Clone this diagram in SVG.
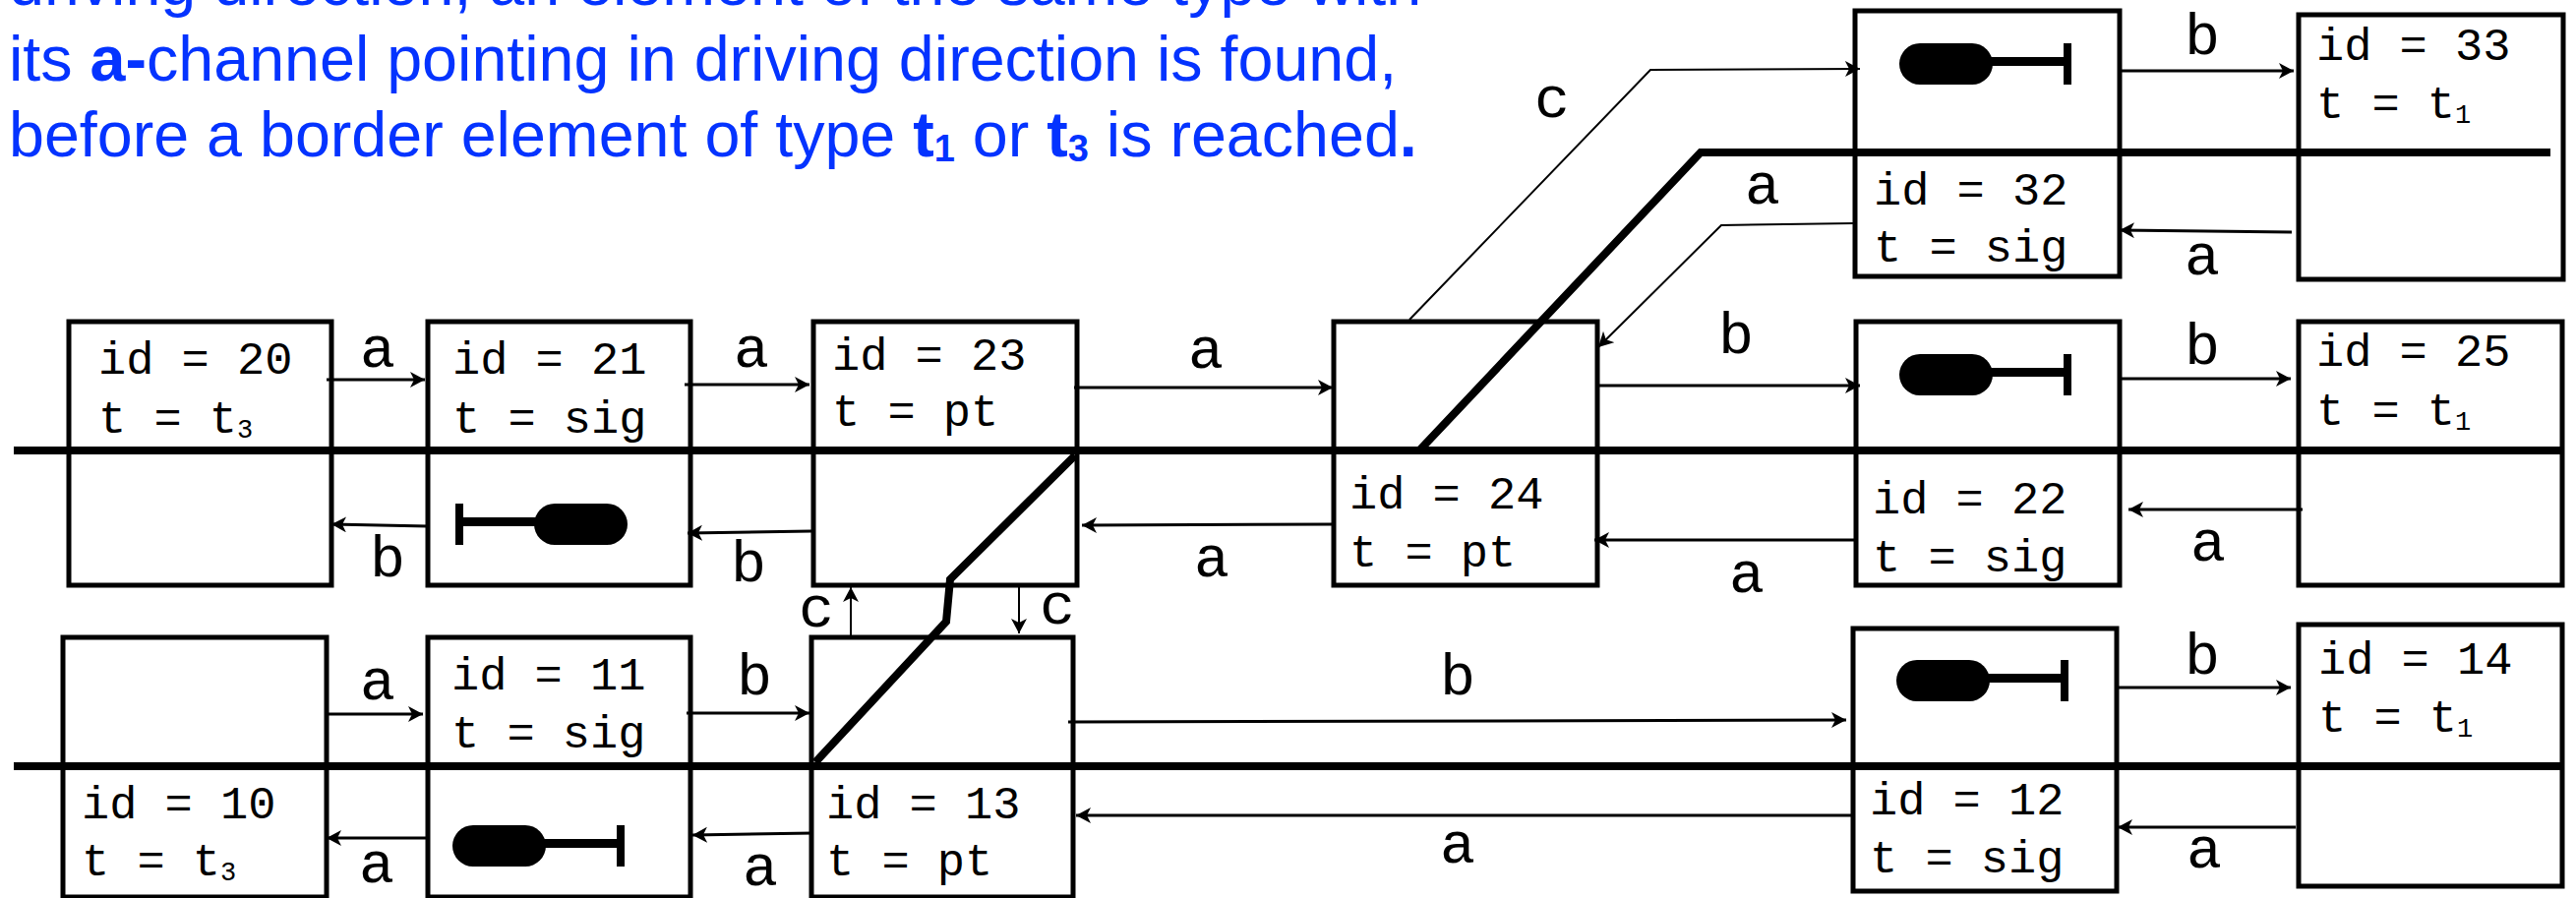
<svg xmlns="http://www.w3.org/2000/svg" width="2619" height="913" viewBox="0 0 2619 913">
<style>
.box{fill:#fff;stroke:#000;stroke-width:5}
.t{font-family:"Liberation Mono","Courier New",monospace;font-size:47px;fill:#000}
.s{font-size:27px}
.l{font-family:"Liberation Mono","Courier New",monospace;font-size:60px;fill:#000;text-anchor:middle}
.h{font-family:"Liberation Sans",Arial,sans-serif;font-size:64.6px;fill:#0433ff}
.b{font-weight:bold}
.c{fill:none;stroke:#000;stroke-width:3;marker-end:url(#ah)}
.n{stroke-width:2}
.rail{fill:none;stroke:#000;stroke-width:8}
.sig{fill:#000}
</style>
<defs>
<marker id="ah" markerUnits="userSpaceOnUse" markerWidth="20" markerHeight="20" refX="15" refY="8" orient="auto">
<path d="M0 0L15 8L0 16L4 8Z" fill="#000"/>
</marker>
<g id="sigR"><rect class="sig" x="0" y="0" width="95" height="42" rx="21"/><rect class="sig" x="90" y="14" width="82" height="9"/><rect class="sig" x="167" y="0" width="8" height="42"/></g>
<g id="sigL"><rect class="sig" x="79" y="0" width="95" height="42" rx="21"/><rect class="sig" x="2" y="14" width="82" height="9"/><rect class="sig" x="-1" y="0" width="8" height="42"/></g>
</defs>
<text class="h" x="9" y="5">driving direction, an element of the same type with</text>
<text class="h" x="9" y="82">its <tspan class="b">a-</tspan>channel pointing in driving direction is found,</text>
<text class="h" x="9" y="159">before a border element of type <tspan class="b">t<tspan font-size="38" dy="5">1</tspan></tspan><tspan dy="-5"> or </tspan><tspan class="b">t<tspan font-size="38" dy="5">3</tspan></tspan><tspan dy="-5"> is reached</tspan><tspan class="b">.</tspan></text>

<g id="n20"><rect class="box" x="70" y="327" width="267" height="268"/><text class="t" x="100" y="380">id = 20</text><text class="t" x="100" y="440">t = t<tspan class="s" dy="5">3</tspan></text></g>
<g id="n21"><rect class="box" x="435" y="327" width="267" height="268"/><text class="t" x="460" y="380">id = 21</text><text class="t" x="460" y="440">t = sig</text><use href="#sigL" x="464" y="512"/></g>
<g id="n23"><rect class="box" x="827" y="327" width="268" height="268"/><text class="t" x="846" y="376">id = 23</text><text class="t" x="846" y="433">t = pt</text></g>
<g id="n24"><rect class="box" x="1356" y="327" width="268" height="268"/><text class="t" x="1372" y="517">id = 24</text><text class="t" x="1372" y="576">t = pt</text></g>
<g id="n22"><rect class="box" x="1887" y="327" width="268" height="268"/><text class="t" x="1904" y="522">id = 22</text><text class="t" x="1904" y="581">t = sig</text><use href="#sigR" x="1931" y="360"/></g>
<g id="n25"><rect class="box" x="2337" y="327" width="268" height="268"/><text class="t" x="2355" y="372">id = 25</text><text class="t" x="2355" y="432">t = t<tspan class="s" dy="5">1</tspan></text></g>
<g id="n32"><rect class="box" x="1886" y="11" width="269" height="270"/><text class="t" x="1905" y="208">id = 32</text><text class="t" x="1905" y="266">t = sig</text><use href="#sigR" x="1931" y="44"/></g>
<g id="n33"><rect class="box" x="2337" y="15" width="269" height="269"/><text class="t" x="2355" y="61">id = 33</text><text class="t" x="2355" y="120">t = t<tspan class="s" dy="5">1</tspan></text></g>
<g id="n10"><rect class="box" x="64" y="648" width="268" height="264"/><text class="t" x="83" y="832">id = 10</text><text class="t" x="83" y="890">t = t<tspan class="s" dy="5">3</tspan></text></g>
<g id="n11"><rect class="box" x="435" y="648" width="267" height="264"/><text class="t" x="459" y="701">id = 11</text><text class="t" x="459" y="760">t = sig</text><use href="#sigR" x="460" y="839"/></g>
<g id="n13"><rect class="box" x="825" y="648" width="266" height="264"/><text class="t" x="840" y="832">id = 13</text><text class="t" x="840" y="890">t = pt</text></g>
<g id="n12"><rect class="box" x="1884" y="639" width="268" height="267"/><text class="t" x="1901" y="828">id = 12</text><text class="t" x="1901" y="887">t = sig</text><use href="#sigR" x="1928" y="671"/></g>
<g id="n14"><rect class="box" x="2337" y="635" width="268" height="266"/><text class="t" x="2357" y="685">id = 14</text><text class="t" x="2357" y="744">t = t<tspan class="s" dy="5">1</tspan></text></g>

<g id="tracks">
<path class="rail" d="M14 458H2603"/>
<path class="rail" d="M14 779H2603"/>
<path class="rail" d="M1443 458L1729 155H2593"/>
<path class="rail" d="M1093 463L966 589L962 632L829 775"/>
</g>

<g id="connectors">
<path class="c" d="M332 386H432"/>
<path class="c" d="M696 391H823"/>
<path class="c" d="M1092 394H1355"/>
<path class="c" d="M1624 392H1891"/>
<path class="c" d="M2155 385H2329"/>
<path class="c" d="M2155 72H2332"/>
<path class="c n" d="M1433 325L1678 71L1891 70"/>
<path class="c n" d="M1886 227L1750 229L1625 353"/>
<path class="c" d="M2330 236L2155 234"/>
<path class="c" d="M435 535L337 533"/>
<path class="c" d="M825 540L699 542"/>
<path class="c" d="M1356 533L1100 534"/>
<path class="c n" d="M865 647V597"/>
<path class="c n" d="M1036 595V644"/>
<path class="c" d="M332 726H430"/>
<path class="c" d="M698 725H823"/>
<path class="c" d="M1086 734L1877 732"/>
<path class="c" d="M1884 829H1094"/>
<path class="c" d="M827 847L704 849"/>
<path class="c" d="M435 852H332"/>
<path class="c" d="M1887 549H1621"/>
<path class="c" d="M2341 518H2164"/>
<path class="c" d="M2152 699H2329"/>
<path class="c" d="M2334 841H2153"/>
</g>

<g id="labels">
<text class="l" x="384" y="373">a</text>
<text class="l" x="764" y="373">a</text>
<text class="l" x="1226" y="374">a</text>
<text class="l" x="1765" y="359">b</text>
<text class="l" x="2239" y="370">b</text>
<text class="l" x="2239" y="55">b</text>
<text class="l" x="1578" y="119">c</text>
<text class="l" x="1792" y="207">a</text>
<text class="l" x="2239" y="279">a</text>
<text class="l" x="394" y="586">b</text>
<text class="l" x="761" y="591">b</text>
<text class="l" x="830" y="637">c</text>
<text class="l" x="1075" y="634">c</text>
<text class="l" x="384" y="711">a</text>
<text class="l" x="767" y="706">b</text>
<text class="l" x="383" y="897">a</text>
<text class="l" x="773" y="900">a</text>
<text class="l" x="1232" y="586">a</text>
<text class="l" x="1776" y="602">a</text>
<text class="l" x="2245" y="570">a</text>
<text class="l" x="1482" y="706">b</text>
<text class="l" x="2239" y="685">b</text>
<text class="l" x="1482" y="877">a</text>
<text class="l" x="2241" y="882">a</text>
</g>
</svg>
